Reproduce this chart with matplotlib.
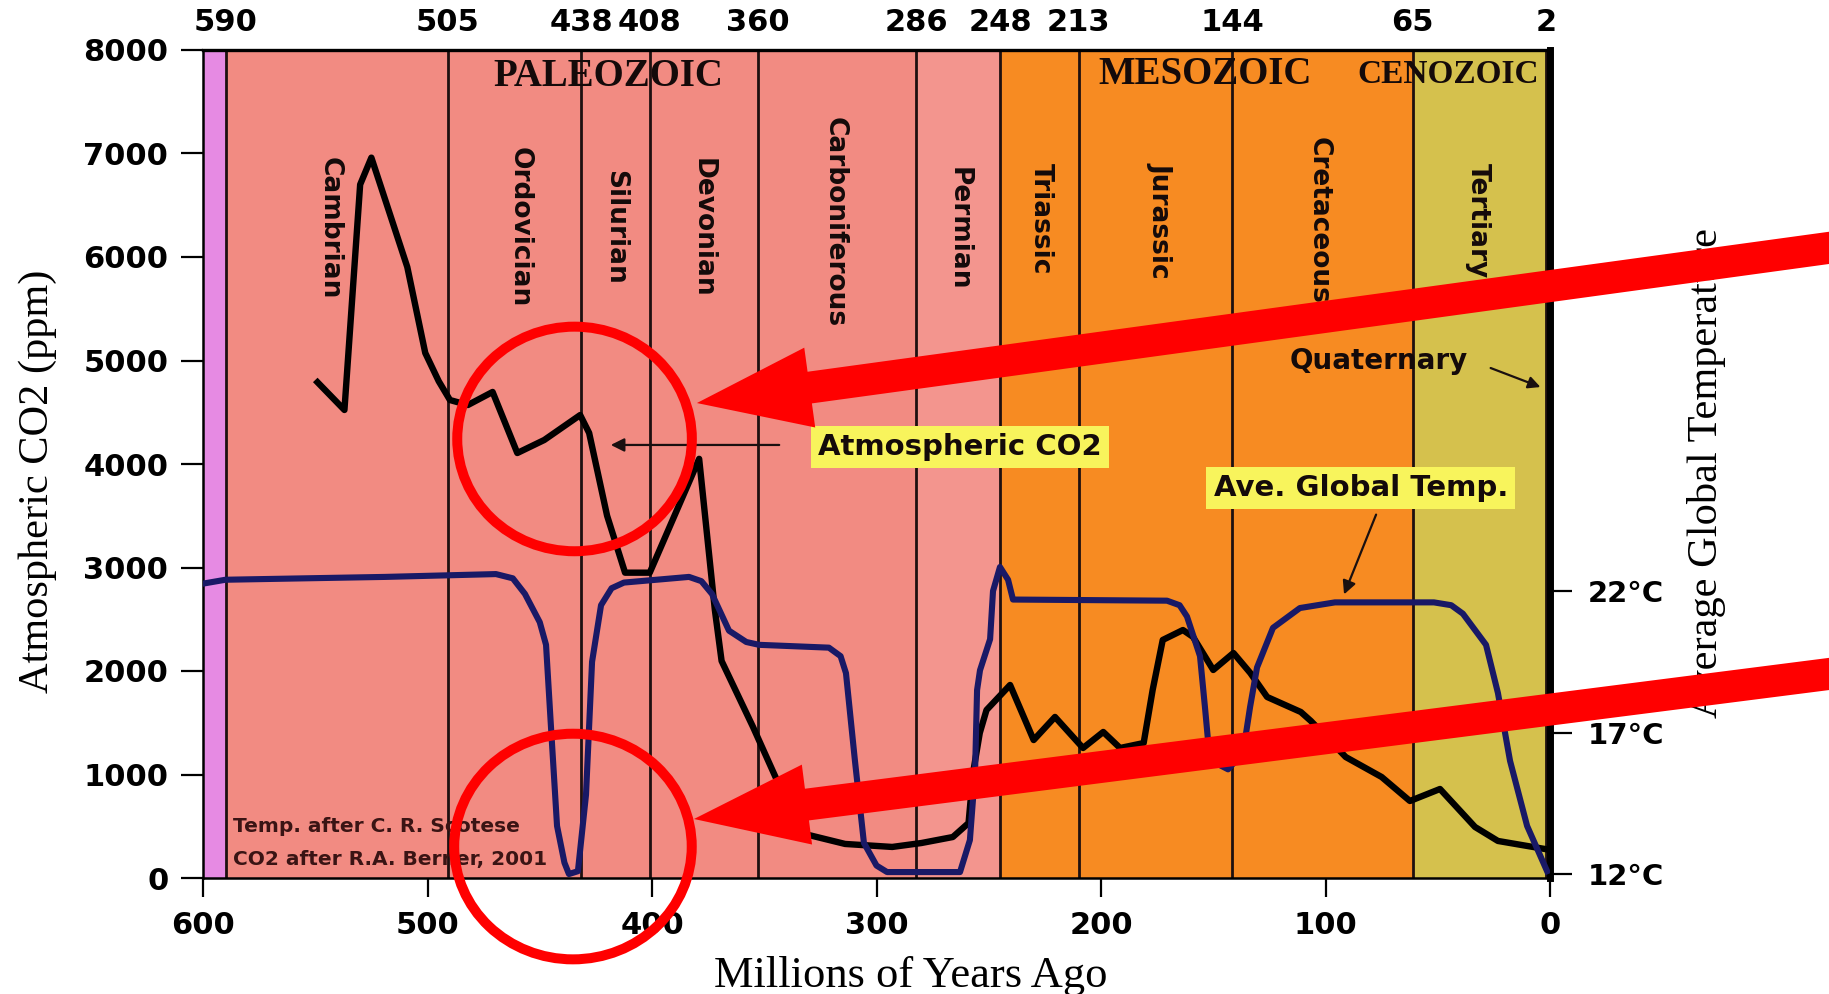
import matplotlib
matplotlib.use('Agg')
import matplotlib.pyplot as plt
from matplotlib.patches import Ellipse, FancyArrowPatch

# ---- data (ages in Ma, CO2 in ppm, temperature in deg C) ----
boundary_pos = [589.8, 491, 431.6, 401, 352.8, 282.4, 245, 210, 141.6, 61.2, 1.8]
boundary_labels = ['590', '505', '438', '408', '360', '286', '248', '213', '144', '65', '2']

band_from = [600, 589.8, 282.4, 245, 61.2]
band_to = [589.8, 282.4, 245, 61.2, 0]
band_colors = ['#e68ae3', '#f28b82', '#f3958e', '#f78b22', '#d5c14d']

period_names = ['Cambrian', 'Ordovician', 'Silurian', 'Devonian', 'Carboniferous',
                'Permian', 'Triassic', 'Jurassic', 'Cretaceous', 'Tertiary']
period_x = [543.4, 459, 416.5, 377.3, 318.7, 263.5, 226.8, 173.3, 103, 32.3]
period_top = [6966, 7063, 6840, 6957, 7353, 6870, 6908, 6918, 7160, 6908]

era_names = ['PALEOZOIC', 'MESOZOIC', 'CENOZOIC']
era_x = [419.6, 153.5, 45.2]
era_y = [7745, 7760, 7760]
era_size = [28, 28, 24]

co2_age = [549, 537, 530, 525, 509, 501, 495, 490, 482, 471, 460, 448, 432, 428,
           420, 412, 401, 379, 372, 369, 355, 345, 332, 314, 293, 280, 266, 259,
           257, 254, 251, 240.5, 230, 220.5, 208, 199, 191.5, 181, 177, 172.5,
           163.5, 159, 150, 141, 133.5, 126, 111, 106.5, 91, 75, 62.4, 49, 33.4,
           23.2, 2.2]
co2_ppm = [4790, 4522, 6700, 6960, 5903, 5073, 4800, 4618, 4570, 4696, 4106, 4232,
           4473, 4300, 3500, 2950, 2950, 4050, 2590, 2097, 1459, 976, 425, 329,
           300, 338, 396, 531, 1014, 1401, 1623, 1865, 1333, 1556, 1256, 1411,
           1256, 1304, 1816, 2300, 2396, 2329, 2010, 2174, 1981, 1749, 1604, 1517,
           1169, 976, 744, 860, 493, 358, 280]

temp_age = [600.9, 590, 518.9, 469.5, 462, 456.6, 450, 447.2, 445.0, 442.3, 439,
            437.0, 433.0, 429.4, 426.7, 422.7, 418, 412.5, 383.5, 378, 373.3,
            365.7, 358, 352.3, 321.2, 316, 313.6, 309.6, 305.6, 300, 295.3,
            262.8, 258.4, 256.1, 255.2, 253.9, 249.4, 248.1, 245.0, 241.4, 239.2,
            170.6, 165, 161.7, 155.9, 153.7, 152.3, 148.3, 143.4, 136.7, 133.6,
            130.5, 123.4, 111.4, 95.8, 51.7, 44, 38.8, 28.5, 23.2, 17.8, 10.2, 1.3]
temp_c = [22.25, 22.4, 22.5, 22.6, 22.45, 21.9, 20.9, 20.1, 17.2, 13.7, 12.4,
          12.0, 12.1, 14.8, 19.5, 21.5, 22.1, 22.3, 22.5, 22.35, 21.9,
          20.6, 20.2, 20.1, 20.0, 19.7, 19.1, 16.0, 13.1, 12.3, 12.07,
          12.07, 13.2, 15.6, 18.5, 19.2, 20.3, 22.0, 22.85, 22.4, 21.7,
          21.66, 21.5, 21.1, 19.7, 17.9, 16.7, 15.9, 15.7, 16.3, 17.9,
          19.3, 20.7, 21.4, 21.6, 21.6, 21.5, 21.2, 20.1, 18.4, 16.0, 13.7, 12.1]

co2_ticks = [0, 1000, 2000, 3000, 4000, 5000, 6000, 7000, 8000]
age_ticks = [600, 500, 400, 300, 200, 100, 0]
temp_ticks = [12, 17, 22]
temp_labels = ['12°C', '17°C', '22°C']

SERIF = ['Liberation Serif', 'DejaVu Serif']

fig = plt.figure(figsize=(18.29, 9.94), dpi=100)
ax = fig.add_axes([203 / 1829, 1 - 878 / 994, 1347 / 1829, 828 / 994])
ax.set_xlim(600, 0)
ax.set_ylim(0, 8000)

# coloured period bands and boundary lines
for a, b, c in zip(band_from, band_to, band_colors):
    ax.axvspan(a, b, color=c, lw=0, zorder=0)
ax.vlines(boundary_pos, 0, 8000, colors='#1e1010', lw=2, zorder=1.5)

for name, x, y in zip(period_names, period_x, period_top):
    ax.text(x, y, name, rotation=-90, ha='center', va='top', fontsize=19,
            fontweight='bold', color='#140a0a', zorder=3)
for name, x, y, s in zip(era_names, era_x, era_y, era_size):
    ax.text(x, y, name, ha='center', va='center', fontsize=s, fontweight='bold',
            family=SERIF, color='#140a0a', zorder=3)

ax.plot(co2_age, co2_ppm, color='black', lw=4.6, solid_joinstyle='round', zorder=4)

# axes, ticks
ax.set_yticks(co2_ticks)
ax.set_xticks(age_ticks)
ax.tick_params(axis='y', direction='out', length=16, width=1.6, pad=9, labelsize=22)
ax.tick_params(axis='x', direction='out', length=14, width=1.6, pad=10, labelsize=22)
for lbl in ax.get_xticklabels() + ax.get_yticklabels():
    lbl.set_fontweight('bold')
for side in ['left', 'bottom']:
    ax.spines[side].set_linewidth(1.8)
ax.spines['top'].set_linewidth(2.4)
ax.spines['right'].set_visible(False)

ax.set_ylabel('Atmospheric CO2 (ppm)', fontsize=30.5, family=SERIF, va='center')
ax.yaxis.set_label_coords((38 - 203) / 1347, (878 - 481) / 828)
ax.set_xlabel('Millions of Years Ago', fontsize=32, family=SERIF, va='baseline')
ax.xaxis.set_label_coords((911 - 203) / 1347, (878 - 987) / 828)

top = ax.secondary_xaxis('top')
top.set_xticks(boundary_pos, labels=boundary_labels)
top.tick_params(length=0, pad=9, labelsize=22)
for lbl in top.get_xticklabels():
    lbl.set_fontweight('bold')
top.spines['top'].set_visible(False)

# temperature on the right axis
ax2 = ax.twinx()
ax2.set_ylim(11.86, 41.12)
ax2.plot(temp_age, temp_c, color='#191966', lw=4.4, solid_joinstyle='round', zorder=4)
ax2.set_yticks(temp_ticks, labels=temp_labels)
ax2.tick_params(axis='y', direction='out', length=16, width=1.6, pad=11, labelsize=21)
for lbl in ax2.get_yticklabels():
    lbl.set_fontweight('bold')
for side in ['left', 'top', 'bottom']:
    ax2.spines[side].set_visible(False)
ax2.spines['right'].set_linewidth(5)
ax2.set_ylabel('Average Global Temperature', fontsize=30.5, family=SERIF,
               rotation=90, va='center')
ax2.yaxis.set_label_coords((1707 - 203) / 1347, (878 - 473.5) / 828)

# overlay for the labels and the red marks
ov = fig.add_axes(ax.get_position(), sharex=ax, sharey=ax, zorder=5)
ov.axis('off')

box = dict(boxstyle='square,pad=0.25', fc='#f8f45c', ec='none')
ov.text(262.8, 4164, 'Atmospheric CO2', ha='center', va='center', fontsize=21,
        fontweight='bold', color='#140a0a', bbox=box, zorder=3)
ov.annotate('', xy=(419.6, 4184), xytext=(342.1, 4184),
            arrowprops=dict(arrowstyle='-|>', color='#1a1010', lw=1.6, mutation_scale=20))
ov.text(84.2, 3768, 'Ave. Global Temp.', ha='center', va='center', fontsize=21,
        fontweight='bold', color='#140a0a', bbox=box, zorder=3)
ov.annotate('', xy=(92.2, 2715), xytext=(77, 3536),
            arrowprops=dict(arrowstyle='-|>', color='#1a1010', lw=1.6, mutation_scale=20))
ov.text(76.2, 4995, 'Quaternary', ha='center', va='center', fontsize=20,
        fontweight='bold', color='#140a0a', zorder=3)
ov.annotate('', xy=(3.1, 4734), xytext=(27.6, 4937),
            arrowprops=dict(arrowstyle='-|>', color='#1a1010', lw=1.6, mutation_scale=18))
ov.text(586.6, 444, 'Temp. after C. R. Scotese', ha='left', va='baseline',
        fontsize=14.5, fontweight='bold', color='#3a1414', zorder=3)
ov.text(586.6, 126, 'CO2 after R.A. Berner, 2001', ha='left', va='baseline',
        fontsize=14.5, fontweight='bold', color='#3a1414', zorder=3)

for cx, cy, w, h in [(434.5, 4242, 104.5, 2170), (435.2, 304, 105.8, 2180)]:
    ov.add_patch(Ellipse((cx, cy), w, h, fill=False, ec='#ff0000', lw=7.2,
                         clip_on=False, zorder=10))
for tail, tip in [((-140, 6135), (380, 4589)), ((-140, 2015), (381.3, 570))]:
    ov.add_patch(FancyArrowPatch(tail, tip, mutation_scale=1, shrinkA=0, shrinkB=0,
                                 arrowstyle='simple,head_length=82,head_width=58,tail_width=23',
                                 fc='#ff0000', ec='none', clip_on=False, zorder=10))

fig.savefig('out.png', dpi=100)
